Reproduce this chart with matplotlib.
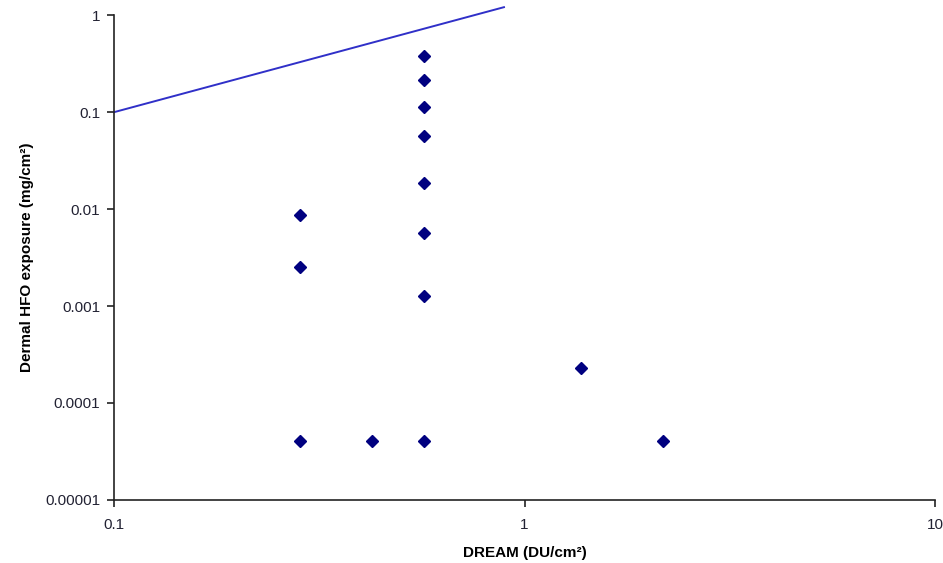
import matplotlib
matplotlib.use("Agg")
import matplotlib.pyplot as plt
from matplotlib.ticker import FixedLocator, FixedFormatter, NullLocator

plt.rcParams['font.family'] = ['Liberation Sans', 'DejaVu Sans']

# DREAM scores vs measured dermal exposure
dream = [0.284, 0.284, 0.284, 0.425, 0.569, 0.569, 0.569, 0.569, 0.569,
         0.569, 0.569, 0.569, 1.37, 2.17]
exposure = [0.00867, 0.00252, 0.0000406, 0.0000406, 0.378, 0.214, 0.113,
            0.0566, 0.0185, 0.00566, 0.00127, 0.0000406, 0.00023, 0.0000406]

# reference line endpoints
line_x = [0.1, 0.891]
line_y = [0.1, 1.21]

xticks = [0.1, 1, 10]
xtick_labels = ['0.1', '1', '10']
yticks = [0.00001, 0.0001, 0.001, 0.01, 0.1, 1]
ytick_labels = ['0.00001', '0.0001', '0.001', '0.01', '0.1', '1']

fig = plt.figure(figsize=(9.43, 5.63), dpi=100)
ax = fig.add_axes([0.121, 0.112, 0.8705, 0.861])

ax.plot(line_x, line_y, color='#3030c8', lw=1.4, clip_on=False)
ax.plot(dream, exposure, linestyle='none', marker='D', ms=6.3,
        color='#000080', clip_on=False)

ax.set_xscale('log')
ax.set_yscale('log')
ax.set_xlim(0.1, 10)
ax.set_ylim(0.00001, 1)

ax.xaxis.set_major_locator(FixedLocator(xticks))
ax.xaxis.set_major_formatter(FixedFormatter(xtick_labels))
ax.xaxis.set_minor_locator(NullLocator())
ax.yaxis.set_major_locator(FixedLocator(yticks))
ax.yaxis.set_major_formatter(FixedFormatter(ytick_labels))
ax.yaxis.set_minor_locator(NullLocator())

for s in ['top', 'right']:
    ax.spines[s].set_visible(False)
for s in ['left', 'bottom']:
    ax.spines[s].set_linewidth(1.2)
    ax.spines[s].set_color('#222222')

ax.tick_params(direction='out', length=5, width=1.2, labelsize=11,
               colors='#222222')
ax.tick_params(axis='x', pad=8)
ax.tick_params(axis='y', pad=5)
for lab in ax.get_xticklabels() + ax.get_yticklabels():
    lab.set_color('#222233')

ax.set_xlabel('DREAM (DU/cm²)', fontsize=11, fontweight='bold', labelpad=10)
ax.set_ylabel('Dermal HFO exposure (mg/cm²)', fontsize=11, fontweight='bold',
              labelpad=8)

fig.savefig('out.png', dpi=100)
